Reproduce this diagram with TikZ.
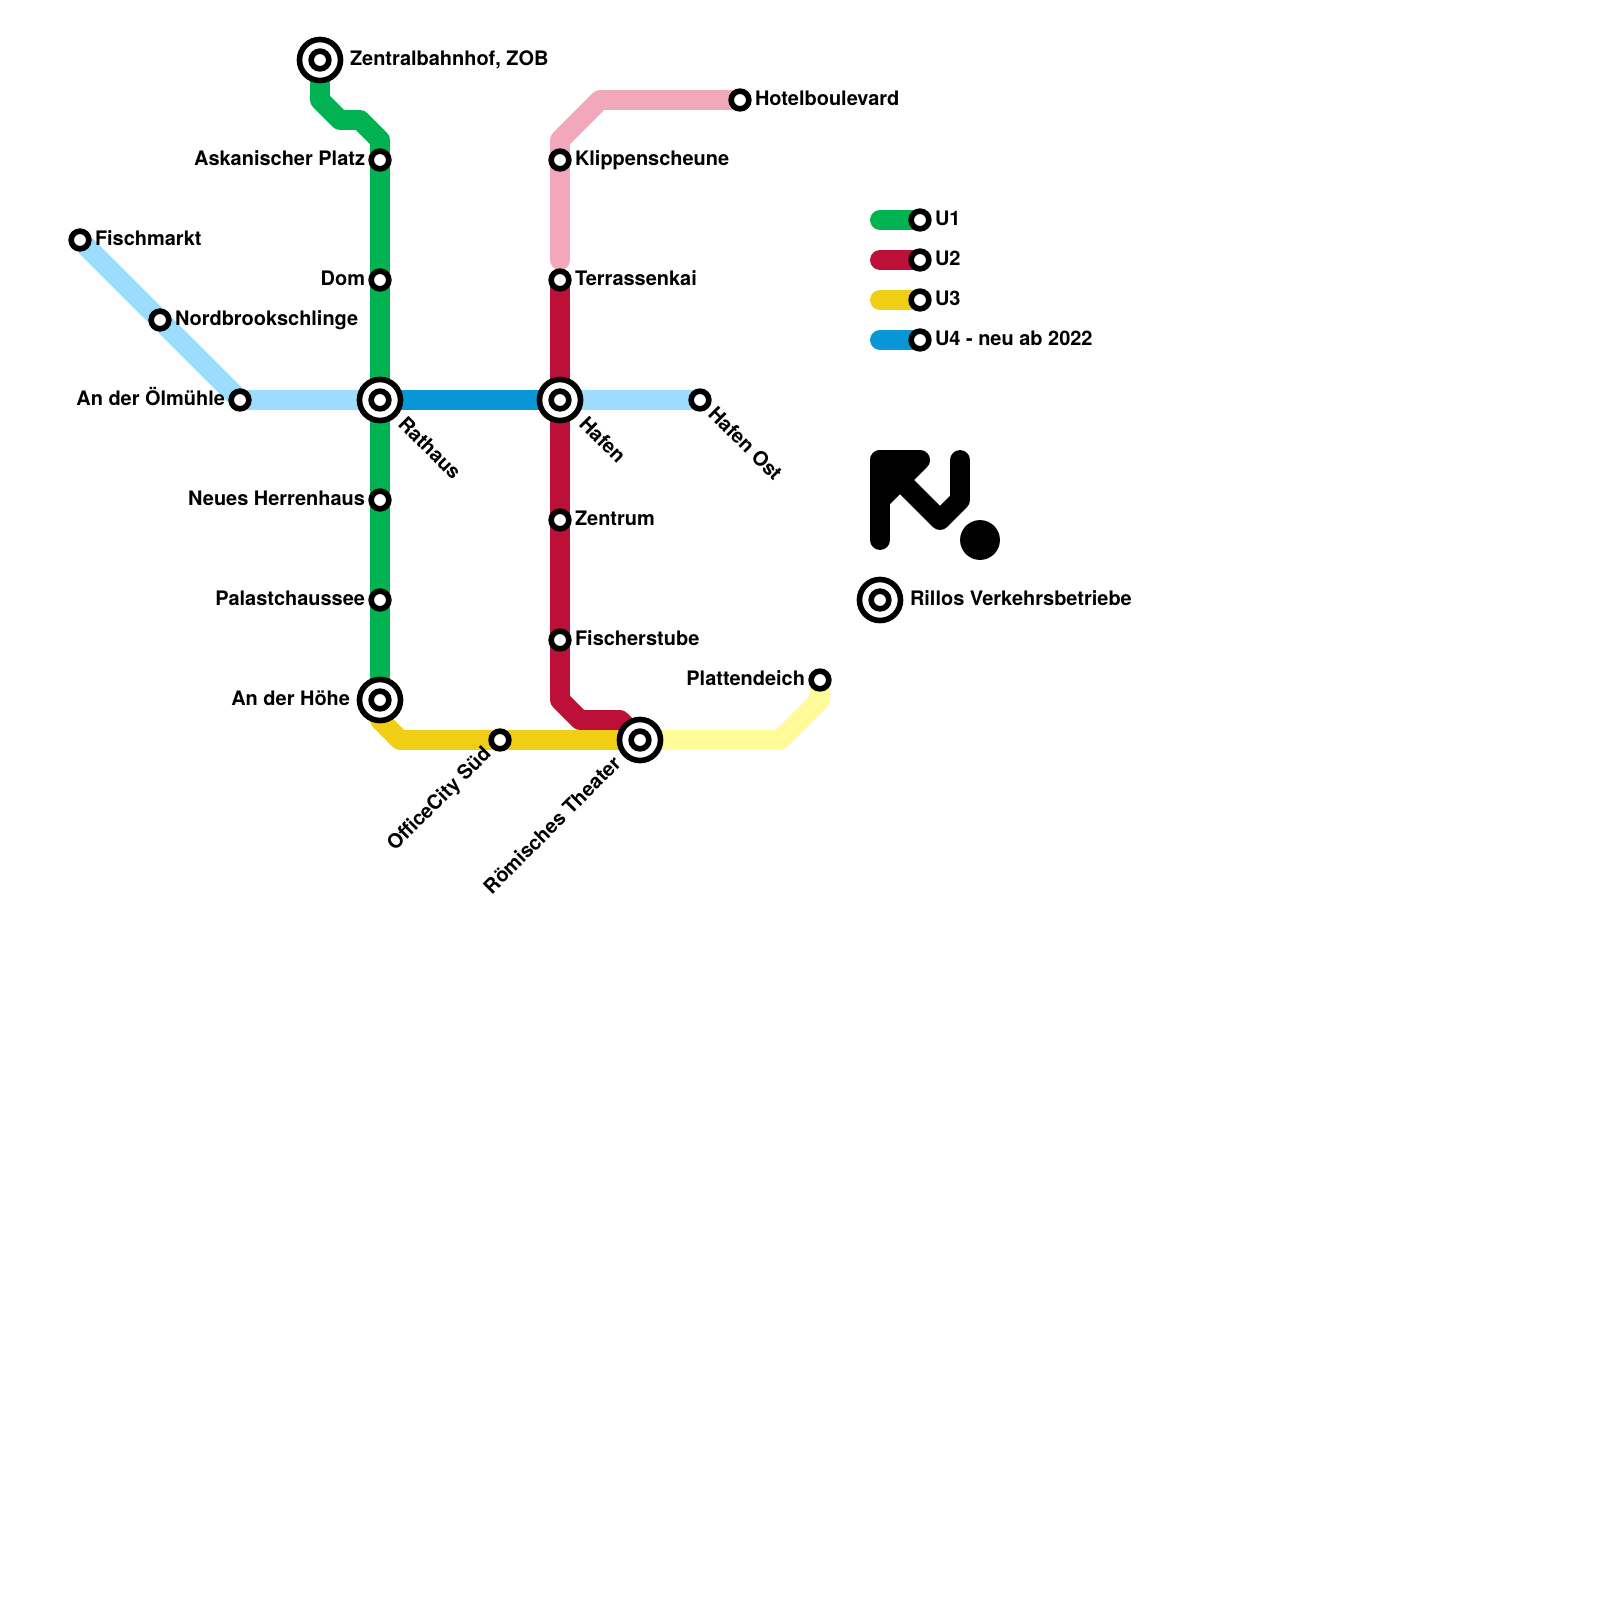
\documentclass[tikz,border=0pt]{standalone}
\usepackage{fontspec}
\setmainfont{TeX Gyre Heros}
\usetikzlibrary{backgrounds}
\definecolor{lineGreen}{RGB}{0, 178, 81}
\definecolor{lineRed}{RGB}{189, 16, 56}
\definecolor{lineYellow}{RGB}{240, 206, 21}
\definecolor{lineBlue}{RGB}{8, 150, 215}
\definecolor{palePink}{RGB}{242, 167, 187}
\definecolor{paleYellow}{RGB}{255, 251, 152}
\definecolor{paleBlue}{RGB}{155, 220, 255}

\begin{document}
\begin{tikzpicture} [
        x=.25cm, y=-.25cm,
        font=\fontsize{7.1pt}{8.5pt}\selectfont\bfseries,
        stopSmall/.style={circle, draw=black, fill=white, line width=2pt,
                          minimum size=6.3pt, inner sep=0, outer sep=0},
        stopBig/.style={stopSmall, minimum size=14.6pt},
        tag/.style={inner sep=0, outer sep=0},
        tagR/.style={tag, anchor=base west},
        tagL/.style={tag, anchor=base east},
        tagDown/.style={tag, anchor=base west, rotate=-45},
        tagUp/.style={tag, anchor=base east, rotate=45},
        track/.style={line width=7.087pt, line join=round}
    ]

    \useasboundingbox (0,0) rectangle (80,80);

    % stations
    \foreach \name/\x/\y in {fischmarkt/4/12, nordbrook/8/16, oelmuehle/12/20,
        askanisch/19/8, dom/19/14, herrenhaus/19/25, palast/19/30,
        klippen/28/8, terrassen/28/14, zentrum/28/26, fischer/28/32,
        hotel/37/5, hafenost/35/20, office/25/37, platten/41/34,
        keyA/46/11, keyB/46/13, keyC/46/15, keyD/46/17} {
        \node[stopSmall] (\name) at (\x,\y) {};
    }
    \foreach \name/\x/\y in {zob/16/3, rathaus/19/20, hafen/28/20,
        hoehe/19/35, theater/32/37, rillos/44/30} {
        \node[stopBig] (\name) at (\x,\y) {};
        \node[stopSmall] (\name-in) at (\x,\y) {};
    }

    % lines
    \begin{scope}[on background layer]
    \draw[track, lineGreen] (zob.center) -- ++(0,2) -- ++(1,1) -- ++(1,0) -- ++(1,1) -- (askanisch.center)
        -- (dom.center) -- (rathaus.center) -- (herrenhaus.center) -- (palast.center) -- (hoehe.center);
    \draw[track, palePink, line cap=round] (hotel.center) -- ++(-7,0) -- ++(-2,2) -- (klippen.center) -- ++(0,5);
    \draw[track, lineRed] (terrassen.center) -- (hafen.center) -- (zentrum.center) -- (fischer.center)
        -- ++(0,3) -- ++(1,1) -- ++(2,0) -- (theater.center);
    \draw[track, lineYellow] (hoehe.center) -- ++(0,1) -- ++(1,1) -- (office.center) -- (theater.center);
    \draw[track, paleYellow] (theater.center) -- ++(7,0) -- ++(2,-2) -- (platten.center);
    \draw[track, paleBlue] (fischmarkt.center) -- (nordbrook.center) -- (oelmuehle.center) -- (rathaus.center);
    \draw[track, lineBlue] (rathaus.center) -- (hafen.center);
    \draw[track, paleBlue] (hafen.center) -- (hafenost.center);

    % key
    \foreach \name/\col in {keyA/lineGreen, keyB/lineRed, keyC/lineYellow, keyD/lineBlue} {
        \draw[track, \col, line cap=round] (\name.center) -- ++(-2,0);
    }
    \end{scope}

    % names
    \path (zob) ++(1.5,.25) node[tagR] (zob-t) {Zentralbahnhof, ZOB};
    \foreach \name/\txt in {askanisch/Askanischer Platz, dom/Dom, herrenhaus/Neues Herrenhaus,
        palast/Palastchaussee, oelmuehle/An der Ölmühle, platten/Plattendeich} {
        \path (\name) ++(-.75,.25) node[tagL] (\name-t) {\txt};
    }
    \path (hoehe) ++(-1.5,.25) node[tagL] (hoehe-t) {An der Höhe};
    \foreach \name/\txt in {fischmarkt/Fischmarkt, nordbrook/Nordbrookschlinge, klippen/Klippenscheune,
        terrassen/Terrassenkai, zentrum/Zentrum, fischer/Fischerstube, hotel/Hotelboulevard,
        keyA/U1, keyB/U2, keyC/U3, keyD/U4 - neu ab 2022} {
        \path (\name) ++(.75,.25) node[tagR] (\name-t) {\txt};
    }
    \path (rillos) ++(1.5,.25) node[tagR] (rillos-t) {Rillos Verkehrsbetriebe};
    \path (rathaus) ++(.85,1.25) node[tagDown] (rathaus-t) {Rathaus};
    \path (hafen) ++(.9,1.25) node[tagDown] (hafen-t) {Hafen};
    \path (hafenost) ++(.35,.75) node[tagDown] (hafenost-t) {Hafen Ost};
    \path (office) ++(-.4,.75) node[tagUp] (office-t) {OfficeCity Süd};
    \path (theater) ++(-.9,1.25) node[tagUp] (theater-t) {Römisches Theater};

    % logo
    \draw[line width=7.087pt, line cap=round, line join=round] (44,27) -- (44,23) -- (46,23) -- (44,25);
    \draw[line width=7.087pt, line cap=round, line join=round] (44,23) -- (47,26) -- (48,25) -- (48,23);
    \node[circle, fill=black, minimum size=14.17pt, inner sep=0, outer sep=0] (logo-dot) at (49,27) {};

\end{tikzpicture}
\end{document}
